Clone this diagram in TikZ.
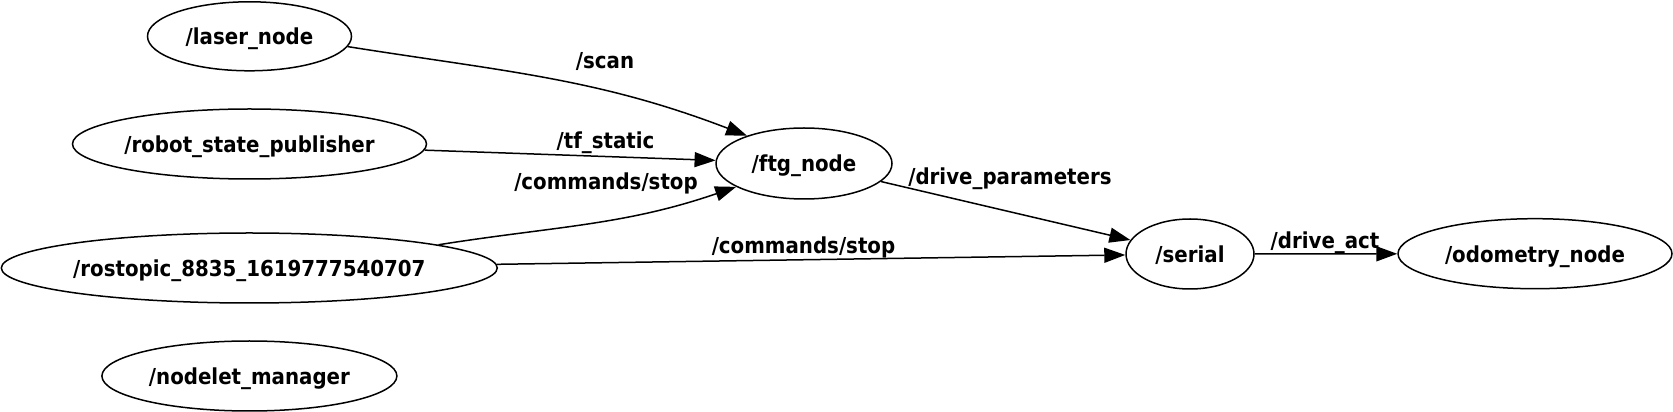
\documentclass[tikz,border=0pt]{standalone}
\usepackage{fontspec}
\setmainfont{DejaVu Sans}[FakeStretch=0.9]
\usetikzlibrary{arrows.meta,shapes.geometric}

\begin{document}
\begin{tikzpicture}[x=1pt, y=1pt,
    rosnode/.style = {draw, ellipse, line width=1.5pt, inner sep=0pt,
        font=\fontsize{22}{24}\selectfont\bfseries, text height=19pt, text depth=2pt},
    topic/.style = {font=\fontsize{22}{24}\selectfont\bfseries, inner sep=0pt, anchor=base},
    edge/.style = {line width=1.5pt, -{Triangle[length=21pt, width=15pt]}}]
    % Frame of the graph
    \useasboundingbox (0,0) rectangle (1673,412);

    % Nodes on the left
    \node[rosnode, minimum width=204pt, minimum height=69pt] (laser) at (249.5,375.7) {/laser\_node};
    \node[rosnode, minimum width=354pt, minimum height=70pt] (robot) at (249.5,268) {/robot\_state\_publisher};
    \node[rosnode, minimum width=496pt, minimum height=70pt, inner xsep=-4pt] (rostopic) at (249.3,144) {/rostopic\_8835\_1619777540707};
    \node[rosnode, minimum width=295pt, minimum height=70pt] (nodelet) at (249.4,36) {/nodelet\_manager};
    % Nodes on the right
    \node[rosnode, minimum width=176pt, minimum height=71pt] (ftg) at (804,248.5) {/ftg\_node};
    \node[rosnode, minimum width=128pt, minimum height=70pt] (serial) at (1190,158) {/serial};
    \node[rosnode, minimum width=274pt, minimum height=70pt] (odometry) at (1535,158.3) {/odometry\_node};

    % Topics
    \draw[edge] (laser.-6) to[out=-9, in=159] (ftg.154);
    \draw[edge] (robot) -- (ftg);
    \draw[edge] (rostopic.7) to[out=9, in=199] (ftg.199);
    \draw[edge] (rostopic) -- (serial);
    \draw[edge] (ftg) -- (serial);
    \draw[edge] (serial) -- (odometry);

    % Topic names
    \node[topic] (scan) at (605,343.6) {/scan};
    \node[topic] (tfstatic) at (605.5,263.6) {/tf\_static};
    \node[topic] (stopA) at (606,222) {/commands/stop};
    \node[topic] (params) at (1010,227) {/drive\_parameters};
    \node[topic] (stopB) at (803.5,158) {/commands/stop};
    \node[topic] (act) at (1325,163.6) {/drive\_act};
\end{tikzpicture}
\end{document}
